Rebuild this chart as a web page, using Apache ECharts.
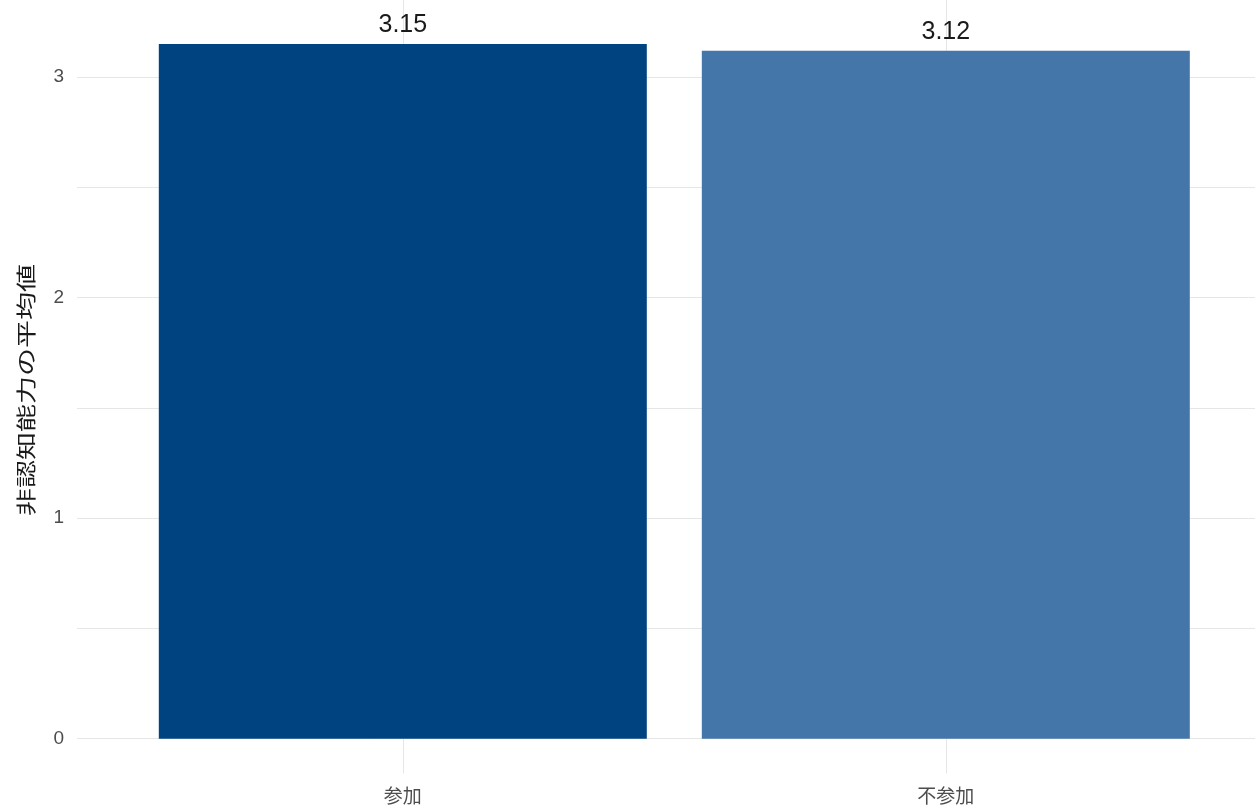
<!DOCTYPE html>
<html>
<head>
<meta charset="utf-8">
<style>
  html, body { margin: 0; padding: 0; background: #ffffff; }
  #chart { width: 1255px; height: 810px; }
</style>
<script src="https://cdn.jsdelivr.net/npm/echarts@6/dist/echarts.min.js"></script>
</head>
<body>
<div id="chart"></div>
<script>
// Groups and their mean scores
const categories = ['参加', '不参加'];
const meanValues = [3.15, 3.12];
const yTickLabels = [0, 1, 2, 3];
const yGridValues = [0, 0.5, 1, 1.5, 2, 2.5, 3];
const yTitle = '非認知能力の平均値';

const barColors = ['#004381', '#4476A9'];
const font = '"Liberation Sans", "Noto Sans CJK JP", sans-serif';

const chart = echarts.init(document.getElementById('chart'), null, { renderer: 'canvas' });

// Categories sit at positions 1..n on a continuous axis; the panel runs
// from 0.4 and is clipped by the right edge of the canvas
const xPositions = categories.map((_, i) => i + 1);

chart.setOption({
  animation: false,
  backgroundColor: '#ffffff',
  grid: { left: 77, right: 0, top: 0, height: 773.4, containLabel: false },
  xAxis: {
    type: 'value',
    min: 0.4,
    max: 2.5694,
    axisLine: { show: false },
    axisTick: { show: false, customValues: xPositions },
    axisLabel: {
      customValues: xPositions,
      formatter: v => categories[Math.round(v) - 1] || '',
      color: '#4D4D4D',
      fontSize: 19,
      fontFamily: font,
      margin: 15
    },
    splitLine: { show: true, lineStyle: { color: '#E6E6E6', width: 1 } }
  },
  yAxis: {
    type: 'value',
    min: -0.1575,
    max: 3.35,
    axisLine: { show: false },
    axisTick: { show: false, customValues: yGridValues },
    axisLabel: {
      customValues: yTickLabels,
      color: '#4D4D4D',
      fontSize: 19,
      fontFamily: font,
      margin: 13,
      padding: [3, 0, 0, 0]
    },
    splitLine: { show: true, lineStyle: { color: '#E6E6E6', width: 1 } }
  },
  graphic: [{
    type: 'text',
    x: 26,
    y: 390,
    rotation: Math.PI / 2,
    scaleX: 1.4,
    style: {
      text: yTitle,
      fill: '#1A1A1A',
      fontSize: 20,
      fontFamily: '"Noto Sans CJK JP", sans-serif',
      align: 'center',
      verticalAlign: 'middle'
    },
    z: 10
  }],
  series: [{
    type: 'bar',
    barWidth: 488,
    data: meanValues.map((v, i) => ({
      value: [xPositions[i], v],
      itemStyle: { color: barColors[i] }
    })),
    label: {
      show: true,
      position: 'top',
      distance: 6,
      formatter: p => meanValues[p.dataIndex].toFixed(2),
      color: '#1A1A1A',
      fontSize: 25,
      fontFamily: font
    }
  }]
});
</script>
</body>
</html>
